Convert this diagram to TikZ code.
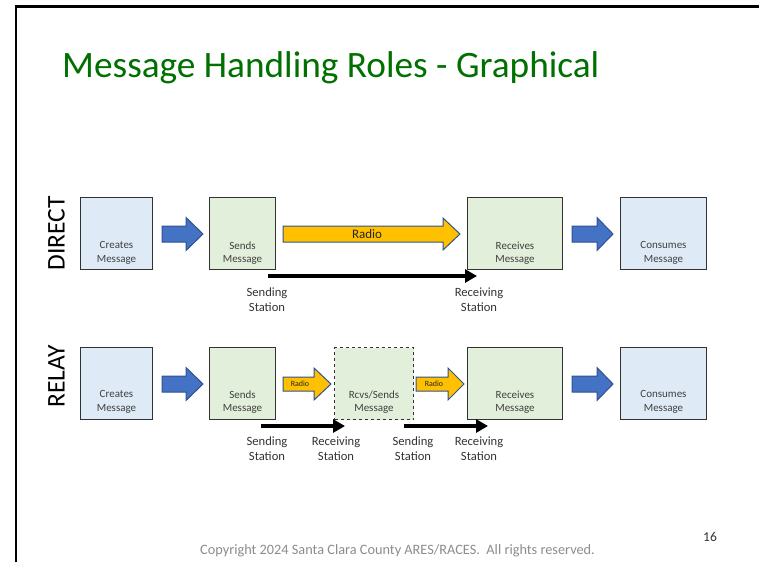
\documentclass[tikz,border=0pt]{standalone}
\usepackage{fontspec}
\setmainfont{Carlito}
\usetikzlibrary{arrows.meta,calc}
\definecolor{bluefill}{RGB}{222,235,247}
\definecolor{greenfill}{RGB}{226,239,218}
\definecolor{boxline}{RGB}{50,50,50}
\definecolor{arrblue}{RGB}{68,114,196}
\definecolor{arredge}{RGB}{47,82,143}
\definecolor{gold}{RGB}{255,192,0}
\definecolor{titlegreen}{RGB}{0,112,0}
\definecolor{txtgray}{RGB}{64,64,64}
\definecolor{footgray}{RGB}{140,140,140}
\newcommand\blockarr[7]{%
  \draw[#1] (#2,#5-#6) -- (#3,#5-#6) -- (#3,#5-#7) -- (#4,#5) -- (#3,#5+#7) -- (#3,#5+#6) -- (#2,#5+#6) -- cycle;}
\tikzset{
  box/.style={draw=boxline, line width=1pt, anchor=north west, inner sep=0pt, minimum height=72pt},
  bluebox/.style={box, fill=bluefill},
  greenbox/.style={box, fill=greenfill},
  boxtext/.style={font=\fontsize{11}{13.5}\selectfont, text=txtgray, align=center, inner sep=0pt},
  lbl/.style={font=\fontsize{12.6}{15}\selectfont, text=black!80, align=center, inner sep=0pt},
  rowlbl/.style={rotate=90, font=\fontsize{25.5}{30}\selectfont, inner sep=0pt},
  bluearr/.style={fill=arrblue, draw=arredge, line width=1pt, line join=miter},
  goldarr/.style={fill=gold, draw=arredge, line width=1pt, line join=miter},
  radiotxt/.style={inner sep=0pt, text=black!85},
  blk/.style={line width=4.5pt, -{Triangle[length=12pt,width=13pt]}},
}
\begin{document}
\begin{tikzpicture}[x=1pt,y=-1pt]
\useasboundingbox (0,0) rectangle (759,562);
% frame
\draw[line width=2.5pt] (16,562) -- (16,6.5) -- (759,6.5);
% title
\node[anchor=base west, font=\fontsize{37.3}{44}\selectfont, text=titlegreen, inner sep=0pt] (title) at (62,77) {Message Handling Roles - Graphical};

% ---------- DIRECT ----------
\node[rowlbl] (dl) at (56.5,233) {DIRECT};
\node[bluebox, minimum width=72pt] (d1) at (80,197) {};
\node[greenbox, minimum width=66pt] (d2) at (209,197) {};
\node[greenbox, minimum width=95pt] (d3) at (467,197) {};
\node[bluebox, minimum width=86pt] (d4) at (620,197) {};
\node[boxtext] (d1t) at ($(d1.center)+(0,19.5)$) {Creates\\Message};
\node[boxtext] (d2t) at ($(d2.center)+(0,19.5)$) {Sends\\Message};
\node[boxtext] (d3t) at ($(d3.center)+(0,19.5)$) {Receives\\Message};
\node[boxtext] (d4t) at ($(d4.center)+(0,19.5)$) {Consumes\\Message};
\blockarr{bluearr}{162}{186}{203}{234}{8}{16.5}
\blockarr{bluearr}{572}{597}{613}{234}{8}{16.5}
\blockarr{goldarr}{283}{443}{460}{234}{8}{16}
\node[radiotxt, font=\fontsize{13}{15}\selectfont] (dr) at (367,234) {Radio};
\coordinate (da) at (268,276);
\coordinate (db) at (477,276);
\draw[blk] (da) -- (db);
\node[lbl] (ds) at (267,299.5) {Sending\\Station};
\node[lbl] (dv) at (479,299.5) {Receiving\\Station};

% ---------- RELAY ----------
\node[rowlbl] (rl) at (56.5,376.5) {RELAY};
\node[bluebox, minimum width=72pt] (r1) at (80,347) {};
\node[greenbox, minimum width=66pt] (r2) at (209,347) {};
\node[greenbox, minimum width=79pt, dashed] (r3) at (334,347) {};
\node[greenbox, minimum width=95pt] (r4) at (467,347) {};
\node[bluebox, minimum width=86pt] (r5) at (620,347) {};
\node[boxtext] (r1t) at ($(r1.center)+(0,18.5)$) {Creates\\Message};
\node[boxtext] (r2t) at ($(r2.center)+(0,18.5)$) {Sends\\Message};
\node[boxtext] (r3t) at ($(r3.center)+(0,18.5)$) {Rcvs/Sends\\Message};
\node[boxtext] (r4t) at ($(r4.center)+(0,18.5)$) {Receives\\Message};
\node[boxtext] (r5t) at ($(r5.center)+(0,18.5)$) {Consumes\\Message};
\blockarr{bluearr}{162}{186}{203}{384}{8}{16.5}
\blockarr{bluearr}{572}{597}{613}{384}{8}{16.5}
\blockarr{goldarr}{283}{314}{331}{384}{7}{16}
\blockarr{goldarr}{416}{448}{464}{384}{7}{16}
\node[radiotxt, font=\fontsize{8}{10}\selectfont] (rr1) at (300,384) {Radio};
\node[radiotxt, font=\fontsize{8}{10}\selectfont] (rr2) at (434,384) {Radio};
\coordinate (ra) at (261,426);
\coordinate (rb) at (345,426);
\coordinate (rc) at (404,426);
\coordinate (rd) at (488,426);
\draw[blk] (ra) -- (rb);
\draw[blk] (rc) -- (rd);
\node[lbl] (rs1) at (267,448.5) {Sending\\Station};
\node[lbl] (rv1) at (336,448.5) {Receiving\\Station};
\node[lbl] (rs2) at (413,448.5) {Sending\\Station};
\node[lbl] (rv2) at (479,448.5) {Receiving\\Station};

% footer
\node[anchor=base west, font=\fontsize{14.3}{17}\selectfont, text=footgray, inner sep=0pt] (copy) at (200,554) {Copyright 2024 Santa Clara County ARES/RACES.\ \ All rights reserved.};
\node[anchor=base west, font=\fontsize{13.5}{16}\selectfont, text=black!80, inner sep=0pt] (pg) at (703,541) {16};
\end{tikzpicture}
\end{document}
